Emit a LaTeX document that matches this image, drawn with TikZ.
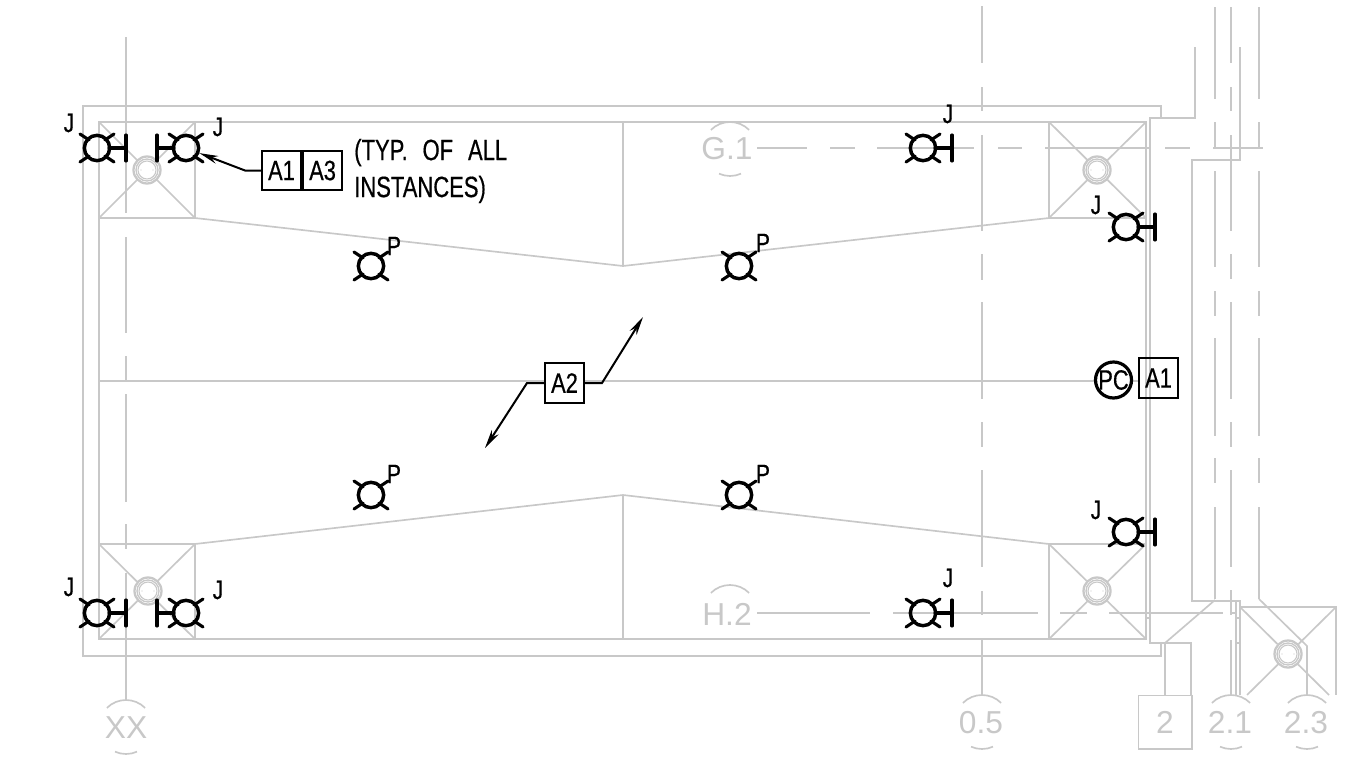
\documentclass[tikz,border=0pt]{standalone}
\usepackage{fontspec}
\setmainfont{Liberation Sans}
\newfontfamily\cadfont[FakeStretch=0.78,FakeBold=0.5]{Liberation Sans}
\newfontfamily\notefont[FakeStretch=0.75,FakeBold=0.5]{Liberation Sans}
\usetikzlibrary{arrows.meta,positioning}
\definecolor{wallgray}{HTML}{C8C8C8}
\tikzset{
    wall/.style={draw=wallgray, line width=1.25pt},
    roof/.style={draw=wallgray, line width=1.7pt},
    gridtxt/.style={text=wallgray, font=\fontsize{23.8}{26}\selectfont, inner sep=0pt},
    tag/.style={draw, line width=1.5pt, fill=white, inner sep=0pt, minimum width=29.3pt, minimum height=29.6pt, font=\cadfont\fontsize{21}{24}\selectfont},
    lbl/.style={inner sep=0pt, font=\cadfont\fontsize{20}{22}\selectfont},
    leader/.style={line width=1.5pt},
    sym/.style={line width=2.3pt, line cap=round},
    drain/.pic={
        \fill[white] (0,0) circle (14.5);
        \draw[wall, line width=1.7pt] (0,0) circle (13.5);
        \draw[wall, line width=1pt] (0,0) circle (11);
        \draw[wall, line width=.8pt] (0,0) circle (9);
        \fill[wallgray] (-6,0) circle (.7) (6,0) circle (.7);
    },
    fixt/.pic={
        \node[draw, circle, line width=2.6pt, minimum size=19pt, inner sep=0pt] (-c) {};
        \draw[sym] (-17,-14) -- (-8,-8) (17,-14) -- (8,-8) (-17,14) -- (-8,8) (17,14) -- (8,8);
    },
    fixtbar/.pic={
        \node[draw, circle, line width=2.6pt, minimum size=19pt, inner sep=0pt] (-c) {};
        \draw[sym] (-17,-14) -- (-8,-8) (17,-14) -- (8,-8) (-17,14) -- (-8,8) (17,14) -- (8,8);
        \draw[sym] (12,0) -- (29,0) (29,-13) -- (29,13);
    },
}
\begin{document}
\begin{tikzpicture}[x=0.75pt, y=-0.75pt]
    \useasboundingbox (0,0) rectangle (1351,760);

    % Outer walls
    \draw[wall] (1161,118) -- (1161,106) -- (83,106) -- (83,656) -- (1161,656) -- (1161,643);
    \draw[wall] (1195,47) -- (1195,118) -- (1150,118) -- (1150,643) -- (1191,643) -- (1191,695);
    \draw[wall] (1165,643) -- (1165,695);
    \draw[wall] (1240,47) -- (1240,160) -- (1192,160) -- (1192,601) -- (1240,601) -- (1240,695);
    \draw[wall] (1236,601) -- (1236,695);
    \draw[wall] (1236,618) -- (1240,618) (1236,643) -- (1240,643) (1146,618) -- (1150,618);
    \draw[wall] (1165,643) -- (1215,600);

    % Roof
    \draw[roof] (99,122) rectangle (1146,639);
    \draw[wall] (99,381) -- (1139,381);
    \draw[wall] (623,122) -- (623,266) (623,495) -- (623,639);
    \draw[wall] (195,218) -- (623,266) -- (1049,218);
    \draw[wall] (195,544) -- (623,495) -- (1049,544);

    % Corner boxes
    \foreach \xa/\ya/\xb/\yb in {99/122/195/218, 1049/122/1146/218, 99/544/195/639, 1049/544/1146/639} {
        \draw[wall] (\xa,\ya) rectangle (\xb,\yb);
        \draw[wall] (\xa,\ya) -- (\xb,\yb) (\xa,\yb) -- (\xb,\ya);
    }
    \draw[wall] (1240,607) -- (1336,607) -- (1336,695);
    \draw[wall] (1240,607) -- (1329,695) (1336,607) -- (1247,695);

    % Grid lines
    \foreach \ya/\yb in {37/213, 237/333, 356/381, 394/502, 524/549, 573/700}
        \draw[wall] (126,\ya) -- (126,\yb);
    \foreach \ya/\yb in {6/63, 87/111, 135/231, 254/280, 302/399, 422/447, 470/567, 591/615, 639/695}
        \draw[wall] (982,\ya) -- (982,\yb);
    \foreach \ya/\yb in {7/63, 87/111, 135/231, 254/279, 302/399, 422/447, 470/567, 590/615, 640/695}
        \draw[wall] (1231,\ya) -- (1231,\yb);
    \foreach \ya/\yb in {7/99, 122/147, 171/267, 291/316, 338/436, 458/483, 507/599} {
        \draw[wall] (1215,\ya) -- (1215,\yb);
        \draw[wall] (1259,\ya) -- (1259,\yb);
    }
    \draw[wall] (1259,599) -- (1307,646) -- (1307,695);
    \foreach \xa/\xb in {757/807, 830/855, 877/974, 998/1022, 1045/1150, 1165/1190, 1213/1263}
        \draw[wall] (\xa,148) -- (\xb,148);
    \foreach \xa/\xb in {757/870, 893/1038, 1060/1087, 1109/1223, 1231/1236}
        \draw[wall] (\xa,613) -- (\xb,613);

    % Drains
    \pic at (147,170) {drain};
    \pic at (1097,170) {drain};
    \pic at (148,591) {drain};
    \pic at (1097,591) {drain};
    \pic at (1288,654) {drain};

    % Grid bubbles
    \draw[wall] (730,149) ++(-135:27) arc (-135:-45:27);
    \draw[wall] (730,149) ++(66:27) arc (66:114:27);
    \draw[wall] (730,612) ++(-135:27) arc (-135:-45:27);
    \foreach \x/\y in {126/727, 982/722, 1231/722, 1307/722} {
        \draw[wall] (\x,\y) ++(-135:27) arc (-135:-45:27);
        \draw[wall] (\x,\y) ++(66:27) arc (66:114:27);
    }
    \node[gridtxt] (gridg) at (727,149) {G.1};
    \node[gridtxt] (gridh) at (727,614) {H.2};
    \node[gridtxt] (gridxx) at (126,728) {XX};
    \node[gridtxt] (gridhalf) at (981,722.5) {0.5};
    \node[gridtxt, draw=wallgray, line width=1.25pt, minimum width=40pt, minimum height=40pt] (gridtwo) at (1165,722) {2};
    \node[gridtxt] (gridtwoa) at (1230,722.5) {2.1};
    \node[gridtxt] (gridtwoc) at (1306,722.5) {2.3};

    % Fixtures
    \pic (pa) at (371,266) {fixt};
    \pic (pb) at (739,266) {fixt};
    \pic (pc) at (371,495) {fixt};
    \pic (pd) at (739,495) {fixt};
    \pic (ja) at (97,148) {fixtbar};
    \pic[xscale=-1] (jb) at (186,148) {fixtbar};
    \pic (jc) at (923,148) {fixtbar};
    \pic (jd) at (1126,227) {fixtbar};
    \pic (je) at (1126,532) {fixtbar};
    \pic (jf) at (923,613) {fixtbar};
    \pic (jg) at (97,613) {fixtbar};
    \pic[xscale=-1] (jh) at (186,613) {fixtbar};

    % Labels
    \foreach \n/\x/\y in {la/69/123, lb/218/127, lc/948/114, ld/1096/205, le/1096/510, lf/948/578, lg/69/587, lh/218/590}
        \node[lbl] (\n) at (\x,\y) {J};
    \foreach \n/\x/\y in {ma/394/246, mb/763/243, mc/394/474, md/763/474}
        \node[lbl] (\n) at (\x,\y) {P};

    % Tags
    \node[tag] (aone) at (281.5,170.5) {A1};
    \node[tag, right=0pt of aone] (athree) {A3};
    \node[lbl, anchor=west, align=left, font=\notefont\fontsize{22}{27.7}\selectfont] (note) at (354,171) {(TYP.\hspace{.3em} OF\hspace{.3em} ALL\\INSTANCES)};
    \node[tag] (atwo) at (564.5,383) {A2};
    \node[tag, fill=none] (aend) at (1158.5,378) {A1};
    \node[draw, circle, line width=2.4pt, fill=white, minimum size=27pt, inner sep=0pt] (pcirc) at (1113.5,380) {};
    \node[inner sep=0pt, font=\cadfont\fontsize{21}{24}\selectfont] (pctxt) at (pcirc) {PC};

    % Leaders
    \coordinate (tipr) at (643,317);
    \coordinate (tipl) at (485,448);
    \draw[leader, -{Stealth[length=14pt,width=6pt]}] (aone.west) -- (245,170.5) -- (jb-c);
    \draw[leader, -{Stealth[length=14pt,width=6pt]}] (atwo.east) -- (602,383) -- (tipr);
    \draw[leader, -{Stealth[length=14pt,width=6pt]}] (atwo.west) -- (527,383) -- (tipl);
\end{tikzpicture}
\end{document}
